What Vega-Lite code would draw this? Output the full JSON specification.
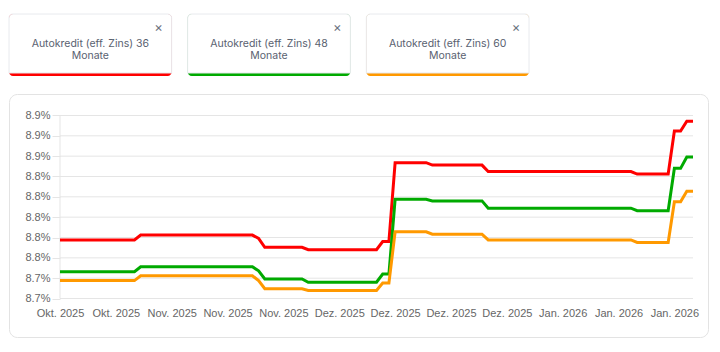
{
  "$schema": "https://vega.github.io/schema/vega-lite/v6.json",
  "background": "white",
  "padding": {"left": 8, "top": 13, "right": 0, "bottom": 0},
  "autosize": {"type": "pad"},
  "spacing": 17,
  "config": {"view": {"stroke": null}},
  "resolve": {"scale": {"x": "independent", "y": "independent", "color": "shared"}},
  "vconcat": [
    {
      "width": 520,
      "height": 62,
      "data": {"values": [
        {"key": "m36", "label": "Autokredit (eff. Zins) 36\nMonate"},
        {"key": "m48", "label": "Autokredit (eff. Zins) 48\nMonate"},
        {"key": "m60", "label": "Autokredit (eff. Zins) 60\nMonate"}
      ]},
      "encoding": {
        "x": {"field": "key", "type": "nominal", "scale": {"type": "band", "domain": ["m36", "m48", "m60"], "paddingInner": 0.0896, "paddingOuter": 0}, "axis": null}
      },
      "layer": [
        {
          "mark": {"type": "bar", "cornerRadius": 4},
          "encoding": {
            "y": {"datum": 0, "type": "quantitative", "scale": {"domain": [0, 1], "nice": false, "zero": false}, "axis": null},
            "y2": {"datum": 1},
            "color": {"field": "key", "type": "nominal", "scale": {"domain": ["m36", "m48", "m60"], "range": ["#ff0000", "#00aa00", "#ff9900"]}, "legend": null}
          }
        },
        {
          "mark": {"type": "bar", "fill": "white", "cornerRadiusTopLeft": 4, "cornerRadiusTopRight": 4, "stroke": "#e8eaee", "strokeWidth": 1},
          "encoding": {
            "y": {"datum": 0.0484, "type": "quantitative"},
            "y2": {"datum": 1}
          }
        },
        {
          "mark": {"type": "text", "lineBreak": "\n", "font": "Inter", "fontSize": 10.5, "lineHeight": 12, "fill": "#596170", "align": "center", "baseline": "middle"},
          "encoding": {
            "y": {"datum": 0.52, "type": "quantitative"},
            "text": {"field": "label"}
          }
        },
        {
          "mark": {"type": "text", "text": "×", "dx": -13, "font": "Inter", "fontSize": 13, "fill": "#6b7280", "align": "center", "baseline": "middle"},
          "encoding": {
            "x": {"field": "key", "type": "nominal", "bandPosition": 1},
            "y": {"datum": 0.774, "type": "quantitative"}
          }
        }
      ]
    },
    {
      "width": 699,
      "height": 243,
      "view": {"stroke": "#e3e3e3", "strokeWidth": 1, "cornerRadius": 8, "fill": "white"},
      "layer": [
        {
          "data": {"values": [
            {"tick": 8.7}, {"tick": 8.725}, {"tick": 8.75}, {"tick": 8.775}, {"tick": 8.8},
            {"tick": 8.825}, {"tick": 8.85}, {"tick": 8.875}, {"tick": 8.9}, {"tick": 8.925}
          ]},
          "mark": {"type": "rule", "color": "#e5e5e5", "strokeWidth": 1},
          "encoding": {
            "y": {"field": "tick", "type": "quantitative"},
            "x": {"datum": {"year": 2025, "month": 10, "date": 18, "utc": true}, "type": "temporal"},
            "x2": {"datum": {"year": 2026, "month": 1, "date": 28, "utc": true}}
          }
        },
        {
          "data": {"values": [{}]},
          "mark": {"type": "rule", "color": "#e5e5e5", "strokeWidth": 1},
          "encoding": {
            "x": {"datum": {"year": 2025, "month": 10, "date": 18, "utc": true}, "type": "temporal"},
            "y": {"datum": 8.7, "type": "quantitative"},
            "y2": {"datum": 8.925}
          }
        },
        {
          "data": {"values": [
            {"date": "2025-10-18", "m36": 8.772, "m48": 8.733, "m60": 8.722},
            {"date": "2025-10-30", "m36": 8.772, "m48": 8.733, "m60": 8.722},
            {"date": "2025-10-31", "m36": 8.778, "m48": 8.739, "m60": 8.728},
            {"date": "2025-11-18", "m36": 8.778, "m48": 8.739, "m60": 8.728},
            {"date": "2025-11-19", "m36": 8.774, "m48": 8.734, "m60": 8.722},
            {"date": "2025-11-20", "m36": 8.763, "m48": 8.724, "m60": 8.712},
            {"date": "2025-11-26", "m36": 8.763, "m48": 8.724, "m60": 8.712},
            {"date": "2025-11-27", "m36": 8.760, "m48": 8.720, "m60": 8.710},
            {"date": "2025-12-08", "m36": 8.760, "m48": 8.720, "m60": 8.710},
            {"date": "2025-12-09", "m36": 8.770, "m48": 8.730, "m60": 8.719},
            {"date": "2025-12-10", "m36": 8.770, "m48": 8.730, "m60": 8.719},
            {"date": "2025-12-11", "m36": 8.867, "m48": 8.822, "m60": 8.782},
            {"date": "2025-12-16", "m36": 8.867, "m48": 8.822, "m60": 8.782},
            {"date": "2025-12-17", "m36": 8.864, "m48": 8.820, "m60": 8.779},
            {"date": "2025-12-25", "m36": 8.864, "m48": 8.820, "m60": 8.779},
            {"date": "2025-12-26", "m36": 8.856, "m48": 8.811, "m60": 8.772},
            {"date": "2026-01-18", "m36": 8.856, "m48": 8.811, "m60": 8.772},
            {"date": "2026-01-19", "m36": 8.853, "m48": 8.808, "m60": 8.769},
            {"date": "2026-01-24", "m36": 8.853, "m48": 8.808, "m60": 8.769},
            {"date": "2026-01-25", "m36": 8.906, "m48": 8.860, "m60": 8.819},
            {"date": "2026-01-26", "m36": 8.906, "m48": 8.860, "m60": 8.819},
            {"date": "2026-01-27", "m36": 8.918, "m48": 8.874, "m60": 8.832},
            {"date": "2026-01-28", "m36": 8.918, "m48": 8.874, "m60": 8.832}
          ]},
          "transform": [{"fold": ["m36", "m48", "m60"], "as": ["key", "value"]}],
          "mark": {"type": "line", "strokeWidth": 3},
          "encoding": {
            "x": {
              "field": "date", "type": "temporal",
              "scale": {"type": "utc", "domain": [{"year": 2025, "month": 10, "date": 9, "hours": 18, "minutes": 46, "utc": true}, {"year": 2026, "month": 1, "date": 30, "hours": 10, "utc": true}]},
              "axis": {
                "title": null,
                "offset": -38.5,
                "tickCount": 30,
                "values": [
                  {"year": 2025, "month": 10, "date": 18, "utc": true},
                  {"year": 2025, "month": 10, "date": 27, "utc": true},
                  {"year": 2025, "month": 11, "date": 5, "utc": true},
                  {"year": 2025, "month": 11, "date": 14, "utc": true},
                  {"year": 2025, "month": 11, "date": 23, "utc": true},
                  {"year": 2025, "month": 12, "date": 2, "utc": true},
                  {"year": 2025, "month": 12, "date": 11, "utc": true},
                  {"year": 2025, "month": 12, "date": 20, "utc": true},
                  {"year": 2025, "month": 12, "date": 29, "utc": true},
                  {"year": 2026, "month": 1, "date": 7, "utc": true},
                  {"year": 2026, "month": 1, "date": 16, "utc": true},
                  {"year": 2026, "month": 1, "date": 25, "utc": true}
                ],
                "labelExpr": "['Jan.','Feb.','März','Apr.','Mai','Juni','Juli','Aug.','Sep.','Okt.','Nov.','Dez.'][utcmonth(datum.value)] + ' ' + utcyear(datum.value)",
                "grid": false, "ticks": false, "domain": false,
                "labelFont": "Liberation Sans", "labelFontSize": 11, "labelColor": "#666666",
                "labelPadding": 9, "labelFlush": false, "labelOverlap": false, "labelBound": false
              }
            },
            "y": {
              "field": "value", "type": "quantitative",
              "scale": {"domain": [8.6527, 8.9514], "nice": false, "zero": false},
              "axis": {
                "title": null,
                "offset": -51,
                "tickCount": 30,
                "values": [8.7, 8.725, 8.75, 8.775, 8.8, 8.825, 8.85, 8.875, 8.9, 8.925],
                "labelExpr": "format(datum.value, '.1f') + '%'",
                "grid": false, "domain": false,
                "ticks": true, "tickSize": 8, "tickColor": "#e5e5e5",
                "labelFont": "Liberation Sans", "labelFontSize": 11, "labelColor": "#666666",
                "labelPadding": 2, "labelOverlap": false
              }
            },
            "color": {"field": "key", "type": "nominal", "scale": {"domain": ["m36", "m48", "m60"], "range": ["#ff0000", "#00aa00", "#ff9900"]}, "legend": null}
          }
        }
      ]
    }
  ]
}
